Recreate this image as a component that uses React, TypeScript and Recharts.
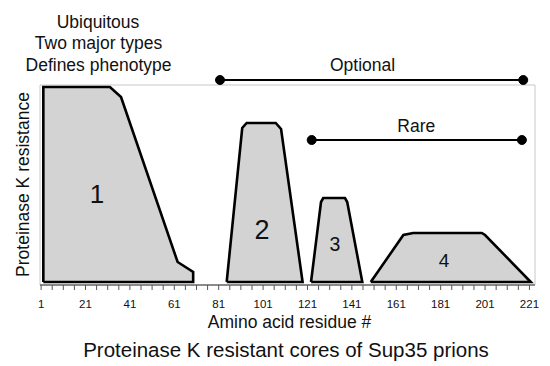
import React from 'react';
import { ComposedChart, Area, Line, XAxis, YAxis, ReferenceArea, ReferenceDot } from 'recharts';

const FONT = '"Liberation Sans", Arial, Helvetica, sans-serif';

// x-axis tick labels (residue numbers) and minor tick step
const majorTicks = [1, 21, 41, 61, 81, 101, 121, 141, 161, 181, 201, 221];
const minorStep = 5;

// Proteinase K resistant cores: top profile (residue, resistance)
const core1X = [2, 32, 37, 62.5, 69.5];
const core1Y = [99, 99, 94, 11.5, 6.5];
const core2X = [84.6, 91.6, 93.6, 106.7, 109.1, 118.8];
const core2Y = [1.5, 78.5, 81, 81, 78, 1.5];
const core3X = [122.6, 127.1, 128.1, 137.9, 138.9, 145.7];
const core3Y = [1.5, 41.5, 43.5, 43.5, 41.5, 1.5];
const core4X = [149.5, 164.2, 168.6, 199.5, 201, 221.6];
const core4Y = [1.5, 25, 26, 26, 25, 1.5];
const coreBase = 1.5;

const coreNames = ['1', '2', '3', '4'];
const coreLabelX = [26.2, 100.5, 133.4, 182.5];
const coreLabelY = [40.8, 22.8, 17.1, 8.8];
const coreLabelSize = [26, 27, 19.5, 19];

// Ranges (Optional / Rare)
const rangeNames = ['Optional', 'Rare'];
const rangeStart = [81.6, 122.9];
const rangeEnd = [218.2, 217.6];
const rangeLevel = [102.5, 72.5];
const rangeLabelX = [145.8, 170.0];
const rangeLabelY = [107.2, 76.7];

const coresX = [core1X, core2X, core3X, core4X];
const coresY = [core1Y, core2Y, core3Y, core4Y];

const areaData = coresX.map((xs, i) => xs.map((x, j) => ({ x, y: coresY[i][j] })));
const outlineData = coresX.map((xs, i) => {
  const pts = xs.map((x, j) => ({ x, y: coresY[i][j] }));
  const first = xs[0];
  const last = xs[xs.length - 1];
  return [{ x: first, y: coreBase }, ...pts, { x: last, y: coreBase }, { x: first, y: coreBase }];
});
const rangeData = rangeNames.map((_, i) => [
  { x: rangeStart[i], y: rangeLevel[i] },
  { x: rangeEnd[i], y: rangeLevel[i] },
]);

const allTicks: number[] = [];
for (let t = majorTicks[0]; t <= majorTicks[majorTicks.length - 1]; t += minorStep) allTicks.push(t);

const Tick = (props: any) => {
  const { x, y, payload } = props;
  if (!majorTicks.includes(payload.value)) return <g />;
  return (
    <text x={x} y={y} dy="0.71em" textAnchor="middle" fontSize={11.5} fontFamily={FONT} fill="#111">
      {payload.value}
    </text>
  );
};

const textShape = (label: string, size: number) => (p: any) => (
  <text x={p.cx} y={p.cy} textAnchor="middle" fontSize={size} fontFamily={FONT} fill="#111">
    {label}
  </text>
);

export default function App() {
  return (
    <div style={{ position: 'absolute', left: 0, top: 0, width: 550, height: 366, background: '#fff' }}>
      <ComposedChart
        width={550}
        height={366}
        margin={{ top: 75, right: 15, left: 40, bottom: 0 }}
      >
        <XAxis
          type="number"
          dataKey="x"
          domain={[0.5, 223.5]}
          allowDataOverflow
          ticks={allTicks}
          interval={0}
          tickSize={5}
          tickMargin={10}
          height={81}
          axisLine={{ stroke: '#333', strokeWidth: 1.2 }}
          tickLine={{ stroke: '#555' }}
          tick={<Tick />}
        />
        <YAxis type="number" dataKey="y" domain={[0, 105]} allowDataOverflow hide />
        <ReferenceArea
          x1={0.5}
          x2={223.5}
          y1={0}
          y2={100}
          fill="none"
          fillOpacity={0}
          stroke="#c8c8c8"
          strokeWidth={1}
          ifOverflow="visible"
        />
        {areaData.map((d, i) => (
          <Area
            key={'a' + i}
            data={d}
            dataKey="y"
            type="linear"
            baseValue={coreBase}
            fill="#d3d3d3"
            fillOpacity={1}
            stroke="none"
            isAnimationActive={false}
          />
        ))}
        {outlineData.map((d, i) => (
          <Line
            key={'o' + i}
            data={d}
            dataKey="y"
            type="linear"
            stroke="#000"
            strokeWidth={2.6}
            dot={false}
            activeDot={false}
            isAnimationActive={false}
          />
        ))}
        {rangeData.map((d, i) => (
          <Line
            key={'r' + i}
            data={d}
            dataKey="y"
            type="linear"
            stroke="#000"
            strokeWidth={2}
            dot={{ r: 4.5, fill: '#000', stroke: '#000', strokeWidth: 1 }}
            activeDot={false}
            isAnimationActive={false}
          />
        ))}
        {coreNames.map((n, i) => (
          <ReferenceDot
            key={'cl' + i}
            x={coreLabelX[i]}
            y={coreLabelY[i]}
            r={0}
            ifOverflow="visible"
            shape={textShape(n, coreLabelSize[i])}
          />
        ))}
        {rangeNames.map((n, i) => (
          <ReferenceDot
            key={'rl' + i}
            x={rangeLabelX[i]}
            y={rangeLabelY[i]}
            r={0}
            ifOverflow="visible"
            shape={textShape(n, 17.5)}
          />
        ))}
      </ComposedChart>
      <svg
        width={550}
        height={366}
        style={{ position: 'absolute', left: 0, top: 0, pointerEvents: 'none' }}
      >
        <g fontFamily={FONT} fill="#111" textAnchor="middle">
          <text x={98} y={27.5} fontSize={17.5}>Ubiquitous</text>
          <text x={98.5} y={49} fontSize={17.5}>Two major types</text>
          <text x={98.5} y={70.5} fontSize={17.5}>Defines phenotype</text>
          <text x={289.5} y={327.5} fontSize={17.5}>Amino acid residue #</text>
          <text x={286} y={357} fontSize={20.5}>Proteinase K resistant cores of Sup35 prions</text>
          <text transform="translate(28.5,184.5) rotate(-90)" fontSize={17.5}>Proteinase K resistance</text>
        </g>
      </svg>
    </div>
  );
}
